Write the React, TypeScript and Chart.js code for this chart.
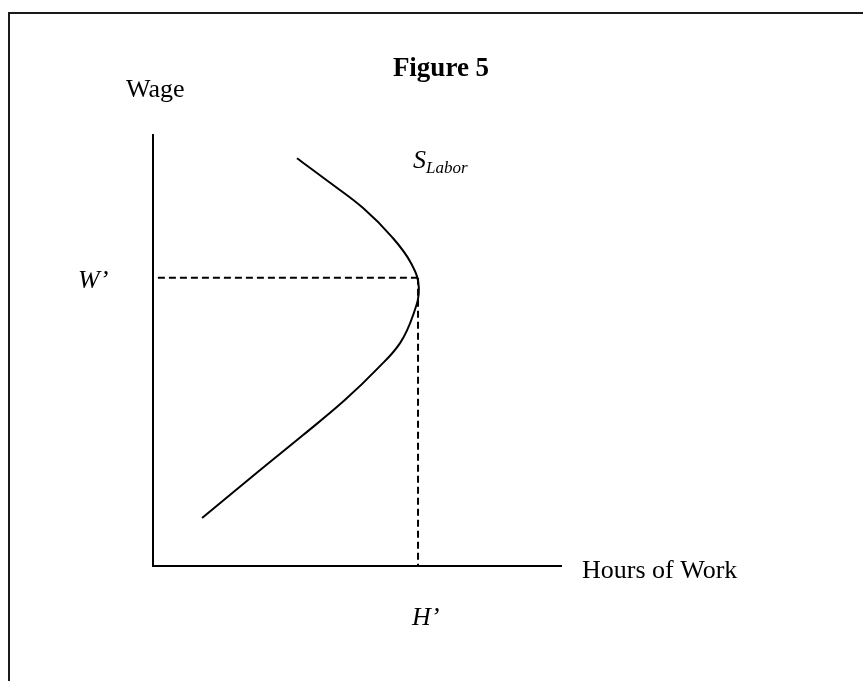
import React, { useEffect, useRef } from "react";
import { Chart, registerables } from "chart.js";

Chart.register(...registerables);

// Labor supply curve (hours on x, wage on y)
const supplyHours = [3.52, 4.33, 5.13, 5.84, 6.31, 6.5, 6.36, 6.04, 5.5, 4.69, 3.67, 2.62, 1.2];
const supplyWage = [9.44, 8.87, 8.29, 7.62, 7.01, 6.44, 5.81, 5.16, 4.58, 3.84, 3.03, 2.22, 1.11];

// Reference levels
const wPrime = 6.67;
const hPrime = 6.48;
const dashStartHours = 0.12;

// Axis extents
const axisHoursMax = 10;
const axisWageMax = 10;

const titleText = "Figure 5";
const yLabel = "Wage";
const xLabel = "Hours of Work";
const wLabel = "W\u2019";
const hLabel = "H\u2019";
const curveLabelMain = "S";
const curveLabelSub = "Labor";

const SERIF = '"Liberation Serif", "Times New Roman", serif';

const decorPlugin = {
  id: "decor",
  beforeDraw(chart: any) {
    const ctx = chart.ctx;
    ctx.save();
    ctx.fillStyle = "#fff";
    ctx.fillRect(0, 0, chart.width, chart.height);
    ctx.strokeStyle = "#1a1a1a";
    ctx.lineWidth = 2;
    ctx.strokeRect(9, 13, 1000, 1000);
    ctx.restore();
  },
  afterDraw(chart: any) {
    const ctx = chart.ctx;
    ctx.save();
    ctx.fillStyle = "#000";
    ctx.textBaseline = "alphabetic";
    ctx.textAlign = "center";
    ctx.font = `bold 27px ${SERIF}`;
    ctx.fillText(titleText, 441, 76);
    ctx.textAlign = "left";
    ctx.font = `26px ${SERIF}`;
    ctx.fillText(yLabel, 126, 97);
    ctx.fillText(xLabel, 582, 578);
    ctx.font = `italic 26px ${SERIF}`;
    ctx.fillText(wLabel, 78, 288);
    ctx.fillText(hLabel, 412, 625);
    ctx.fillText(curveLabelMain, 413, 168);
    ctx.font = `italic 17px ${SERIF}`;
    ctx.fillText(curveLabelSub, 426, 173);
    ctx.restore();
  },
};

export default function App() {
  const ref = useRef<HTMLCanvasElement>(null);
  useEffect(() => {
    if (!ref.current) return;
    const curve = supplyHours.map((h, i) => ({ x: h, y: supplyWage[i] }));
    const chart = new Chart(ref.current, {
      type: "scatter",
      data: {
        datasets: [
          {
            label: "Axes",
            data: [
              { x: 0, y: axisWageMax },
              { x: 0, y: 0 },
              { x: axisHoursMax, y: 0 },
            ],
            showLine: true,
            borderColor: "#000",
            borderWidth: 2,
            pointRadius: 0,
            tension: 0,
            clip: false,
          },
          {
            label: "S Labor",
            data: curve,
            showLine: true,
            borderColor: "#000",
            borderWidth: 2,
            pointRadius: 0,
            tension: 0.4,
            clip: false,
          },
          {
            label: "W'",
            data: [
              { x: dashStartHours, y: wPrime },
              { x: hPrime, y: wPrime },
            ],
            showLine: true,
            borderColor: "#000",
            borderWidth: 2,
            borderDash: [7, 4],
            pointRadius: 0,
            clip: false,
          },
          {
            label: "H'",
            data: [
              { x: hPrime, y: wPrime },
              { x: hPrime, y: 0 },
            ],
            showLine: true,
            borderColor: "#000",
            borderWidth: 2,
            borderDash: [7, 4],
            pointRadius: 0,
            clip: false,
          },
        ],
      },
      options: {
        responsive: false,
        animation: false,
        layout: { padding: { left: 153, right: 301, top: 134, bottom: 115 } },
        plugins: { legend: { display: false }, tooltip: { enabled: false }, title: { display: false } },
        scales: {
          x: { type: "linear", min: 0, max: axisHoursMax, display: false },
          y: { type: "linear", min: 0, max: axisWageMax, display: false },
        },
      },
      plugins: [decorPlugin],
    });
    return () => chart.destroy();
  }, []);
  return (
    <div style={{ position: "absolute", left: 0, top: 0, width: 863, height: 681 }}>
      <canvas ref={ref} width={863} height={681} style={{ display: "block" }} />
    </div>
  );
}
